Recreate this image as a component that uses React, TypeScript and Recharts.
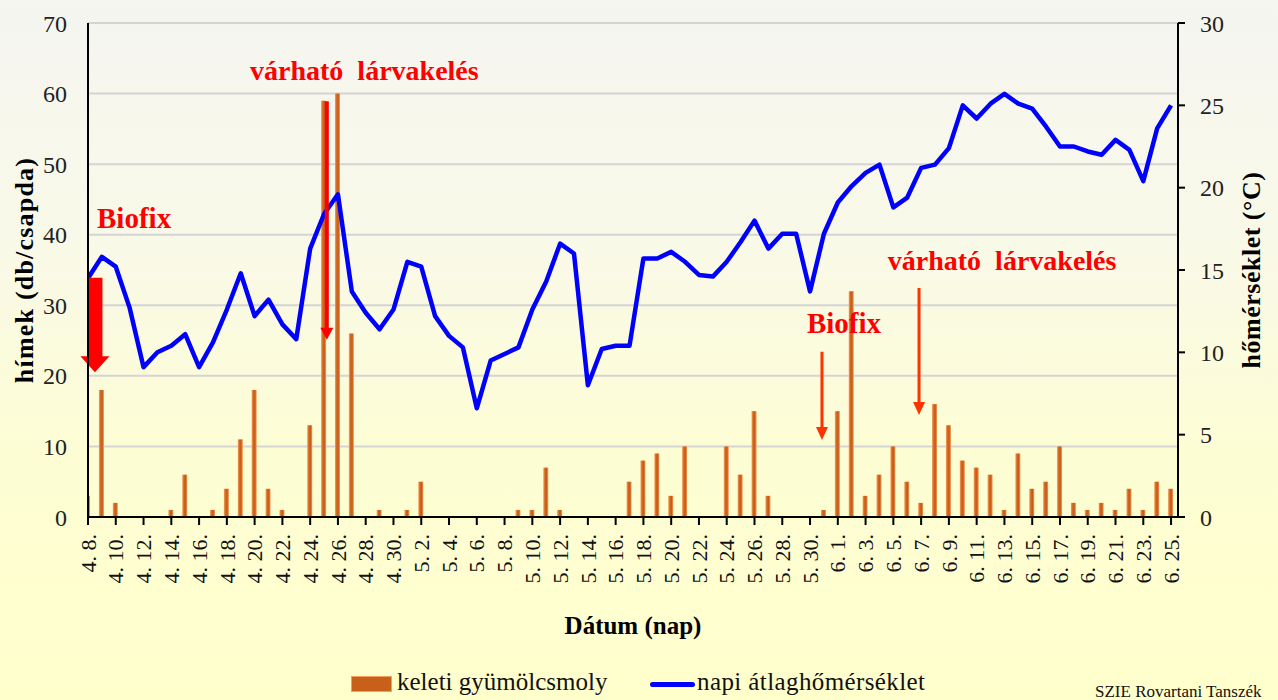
import React from 'react';
import {
  ComposedChart,
  Bar,
  Line,
  XAxis,
  YAxis,
  CartesianGrid,
  Legend,
  ReferenceLine,
  ReferenceDot,
} from 'recharts';

const serif = "'Liberation Serif', 'Times New Roman', serif";

// napok (4.8 - 6.25)
const days = [
  '4. 8.', '4. 9.', '4. 10.', '4. 11.', '4. 12.', '4. 13.', '4. 14.', '4. 15.', '4. 16.', '4. 17.',
  '4. 18.', '4. 19.', '4. 20.', '4. 21.', '4. 22.', '4. 23.', '4. 24.', '4. 25.', '4. 26.', '4. 27.',
  '4. 28.', '4. 29.', '4. 30.',
  '5. 1.', '5. 2.', '5. 3.', '5. 4.', '5. 5.', '5. 6.', '5. 7.', '5. 8.', '5. 9.', '5. 10.',
  '5. 11.', '5. 12.', '5. 13.', '5. 14.', '5. 15.', '5. 16.', '5. 17.', '5. 18.', '5. 19.', '5. 20.',
  '5. 21.', '5. 22.', '5. 23.', '5. 24.', '5. 25.', '5. 26.', '5. 27.', '5. 28.', '5. 29.', '5. 30.',
  '5. 31.',
  '6. 1.', '6. 2.', '6. 3.', '6. 4.', '6. 5.', '6. 6.', '6. 7.', '6. 8.', '6. 9.', '6. 10.',
  '6. 11.', '6. 12.', '6. 13.', '6. 14.', '6. 15.', '6. 16.', '6. 17.', '6. 18.', '6. 19.', '6. 20.',
  '6. 21.', '6. 22.', '6. 23.', '6. 24.', '6. 25.',
];

// keleti gyümölcsmoly, hímek (db/csapda)
const moths = [
  3, 18, 2, 0, 0, 0, 1, 6, 0, 1,
  4, 11, 18, 4, 1, 0, 13, 59, 60, 26,
  0, 1, 0,
  1, 5, 0, 0, 0, 0, 0, 0, 1, 1,
  7, 1, 0, 0, 0, 0, 5, 8, 9, 3,
  10, 0, 0, 10, 6, 15, 3, 0, 0, 0,
  1,
  15, 32, 3, 6, 10, 5, 2, 16, 13, 8,
  7, 6, 1, 9, 4, 5, 10, 2, 1, 2,
  1, 4, 1, 5, 4,
];

// napi átlaghőmérséklet (°C)
const temps = [
  14.5, 15.8, 15.2, 12.7, 9.1, 10.0, 10.4, 11.1, 9.1, 10.6,
  12.6, 14.8, 12.2, 13.2, 11.7, 10.8, 16.3, 18.4, 19.6, 13.7,
  12.4, 11.4, 12.6,
  15.5, 15.2, 12.2, 11.0, 10.3, 6.6, 9.5, 9.9, 10.3, 12.6,
  14.3, 16.6, 16.0, 8.0, 10.2, 10.4, 10.4, 15.7, 15.7, 16.1,
  15.5, 14.7, 14.6, 15.5, 16.7, 18.0, 16.3, 17.2, 17.2, 13.7,
  17.2,
  19.1, 20.1, 20.9, 21.4, 18.8, 19.4, 21.2, 21.4, 22.4, 25.0,
  24.2, 25.1, 25.7, 25.1, 24.8, 23.7, 22.5, 22.5, 22.2, 22.0,
  22.9, 22.3, 20.4, 23.6, 25.0,
];

// minden második nap kap feliratot
const xTicks = [
  0, 2, 4, 6, 8, 10, 12, 14, 16, 18, 20, 22, 24, 26, 28, 30, 32, 34, 36, 38,
  40, 42, 44, 46, 48, 50, 52, 54, 56, 58, 60, 62, 64, 66, 68, 70, 72, 74, 76, 78,
];
const leftTicks = [0, 10, 20, 30, 40, 50, 60, 70];
const rightTicks = [0, 5, 10, 15, 20, 25, 30];

const data = days.map((d, i) => ({ i, day: d, moly: moths[i], temp: temps[i] }));

const DayTick = (props: any) => {
  const { x, y, payload } = props;
  return (
    <text
      x={x}
      y={y}
      transform={`rotate(-90, ${x}, ${y})`}
      textAnchor="end"
      dy="0.35em"
      fontSize={22}
      fontFamily={serif}
      fill="#111"
    >
      {days[payload.value]}
    </text>
  );
};

const arrow = (color: string, shaft: number, head: number, headLen: number) => (p: any) => {
  const x = p.x1;
  const top = Math.min(p.y1, p.y2);
  const bot = Math.max(p.y1, p.y2);
  const hb = bot - headLen;
  const pts = [
    [x - shaft / 2, top], [x + shaft / 2, top], [x + shaft / 2, hb], [x + head / 2, hb],
    [x, bot], [x - head / 2, hb], [x - shaft / 2, hb],
  ].map((q) => q.join(',')).join(' ');
  return <polygon points={pts} fill={color} />;
};

const note = (txt: string, size: number) => (p: any) => (
  <text
    x={p.cx}
    y={p.cy}
    fontSize={size}
    fontWeight="bold"
    fontFamily={serif}
    fill="#FF0000"
    style={{ whiteSpace: 'pre' }}
  >
    {txt}
  </text>
);

const LegendBox = () => (
  <div style={{ position: 'relative', width: 1278, height: 34, fontFamily: serif, fontSize: 25, color: '#111' }}>
    <div
      style={{
        position: 'absolute', left: 351, top: 9, width: 41, height: 16,
        background: '#C8601A', border: '1px solid #F0A060', boxSizing: 'border-box',
      }}
    />
    <span style={{ position: 'absolute', left: 397, top: 0, lineHeight: '30px', whiteSpace: 'nowrap' }}>
      keleti gyümölcsmoly
    </span>
    <div
      style={{
        position: 'absolute', left: 650, top: 15, width: 45, height: 5,
        background: '#0000FF', borderRadius: 3,
      }}
    />
    <span
      style={{
        position: 'absolute', left: 697, top: 0, lineHeight: '30px', whiteSpace: 'nowrap', letterSpacing: 0.4,
      }}
    >
      napi átlaghőmérséklet
    </span>
  </div>
);

export default function App() {
  return (
    <div
      style={{
        position: 'absolute',
        top: 0,
        left: 0,
        width: 1278,
        height: 700,
        overflow: 'hidden',
        background: 'linear-gradient(to bottom, #F5F5F1 0%, #F9F9E8 35%, #FDFDD4 65%, #FFFFCC 100%)',
      }}
    >
      <ComposedChart
        width={1278}
        height={700}
        data={data}
        margin={{ top: 23, right: 40, bottom: 63, left: 28 }}
      >
        <defs>
          <linearGradient id="barFill" x1="0" y1="0" x2="1" y2="0">
            <stop offset="0%" stopColor="#F2A160" />
            <stop offset="35%" stopColor="#D2661F" />
            <stop offset="65%" stopColor="#C85A16" />
            <stop offset="100%" stopColor="#F2A160" />
          </linearGradient>
        </defs>
        <CartesianGrid yAxisId="left" vertical={false} stroke="#D4D4D4" strokeWidth={2} />
        <XAxis
          dataKey="i"
          type="number"
          domain={[0, 78.5]}
          allowDataOverflow
          ticks={xTicks}
          interval={0}
          height={120}
          tick={<DayTick />}
          tickSize={8}
          tickMargin={9}
          axisLine={{ stroke: '#000', strokeWidth: 2 }}
          tickLine={{ stroke: '#000', strokeWidth: 2 }}
          label={{
            value: 'Dátum (nap)',
            position: 'insideBottom',
            offset: 3,
            style: { fontFamily: serif, fontSize: 25, fontWeight: 'bold', fill: '#000' },
          }}
        />
        <YAxis
          yAxisId="left"
          domain={[0, 70]}
          ticks={leftTicks}
          width={60}
          tickLine={false}
          tickSize={6}
          tickMargin={15}
          axisLine={{ stroke: '#000', strokeWidth: 2 }}
          tick={{ fontFamily: serif, fontSize: 24, fill: '#222' }}
          label={{
            value: 'hímek (db/csapda)',
            angle: -90,
            position: 'insideLeft',
            offset: -4,
            style: {
              textAnchor: 'middle', fontFamily: serif, fontSize: 26, fontWeight: 'bold', fill: '#000',
              letterSpacing: 1.2,
            },
          }}
        />
        <YAxis
          yAxisId="right"
          orientation="right"
          domain={[0, 30]}
          ticks={rightTicks}
          width={60}
          tickSize={7}
          tickMargin={15}
          axisLine={{ stroke: '#000', strokeWidth: 2 }}
          tickLine={{ stroke: '#000', strokeWidth: 2 }}
          tick={{ fontFamily: serif, fontSize: 24, fill: '#222' }}
          label={{
            value: 'hőmérséklet (°C)',
            angle: -90,
            position: 'insideRight',
            offset: -13,
            style: {
              textAnchor: 'middle', fontFamily: serif, fontSize: 26, fontWeight: 'bold', fill: '#000',
              letterSpacing: 0.5,
            },
          }}
        />
        <Bar
          yAxisId="left"
          dataKey="moly"
          name="keleti gyümölcsmoly"
          barSize={5}
          fill="url(#barFill)"
          isAnimationActive={false}
        />
        <Line
          yAxisId="right"
          dataKey="temp"
          name="napi átlaghőmérséklet"
          type="linear"
          stroke="#0000FF"
          strokeWidth={4.5}
          strokeLinejoin="round"
          dot={false}
          activeDot={false}
          isAnimationActive={false}
        />
        <ReferenceLine
          yAxisId="left"
          segment={[{ x: 0.5, y: 33.9 }, { x: 0.5, y: 20.5 }]}
          shape={arrow('#FF0000', 15, 29, 16)}
        />
        <ReferenceLine
          yAxisId="left"
          segment={[{ x: 17.2, y: 58.9 }, { x: 17.2, y: 25.1 }]}
          shape={arrow('#FF0000', 4, 13, 12)}
        />
        <ReferenceLine
          yAxisId="left"
          segment={[{ x: 52.86, y: 23.4 }, { x: 52.86, y: 10.9 }]}
          shape={arrow('#FF3300', 3, 12, 13)}
        />
        <ReferenceLine
          yAxisId="left"
          segment={[{ x: 59.85, y: 32.45 }, { x: 59.85, y: 14.45 }]}
          shape={arrow('#FF3300', 3, 12, 13)}
        />
        <ReferenceDot yAxisId="left" x={0.65} y={40.95} shape={note('Biofix', 29)} />
        <ReferenceDot yAxisId="left" x={11.67} y={61.9} shape={note('várható  lárvakelés', 28)} />
        <ReferenceDot yAxisId="left" x={51.78} y={26.07} shape={note('Biofix', 29)} />
        <ReferenceDot yAxisId="left" x={57.6} y={35.0} shape={note('várható  lárvakelés', 28)} />
        <Legend
          layout="horizontal"
          verticalAlign="middle"
          align="center"
          content={<LegendBox />}
          wrapperStyle={{ top: 667, left: 0, width: 1278, height: 34 }}
        />
      </ComposedChart>
      <div
        style={{
          position: 'absolute', left: 1095, top: 683, fontFamily: serif, fontSize: 17,
          lineHeight: '17px', color: '#111', whiteSpace: 'nowrap',
        }}
      >
        SZIE Rovartani Tanszék
      </div>
    </div>
  );
}
